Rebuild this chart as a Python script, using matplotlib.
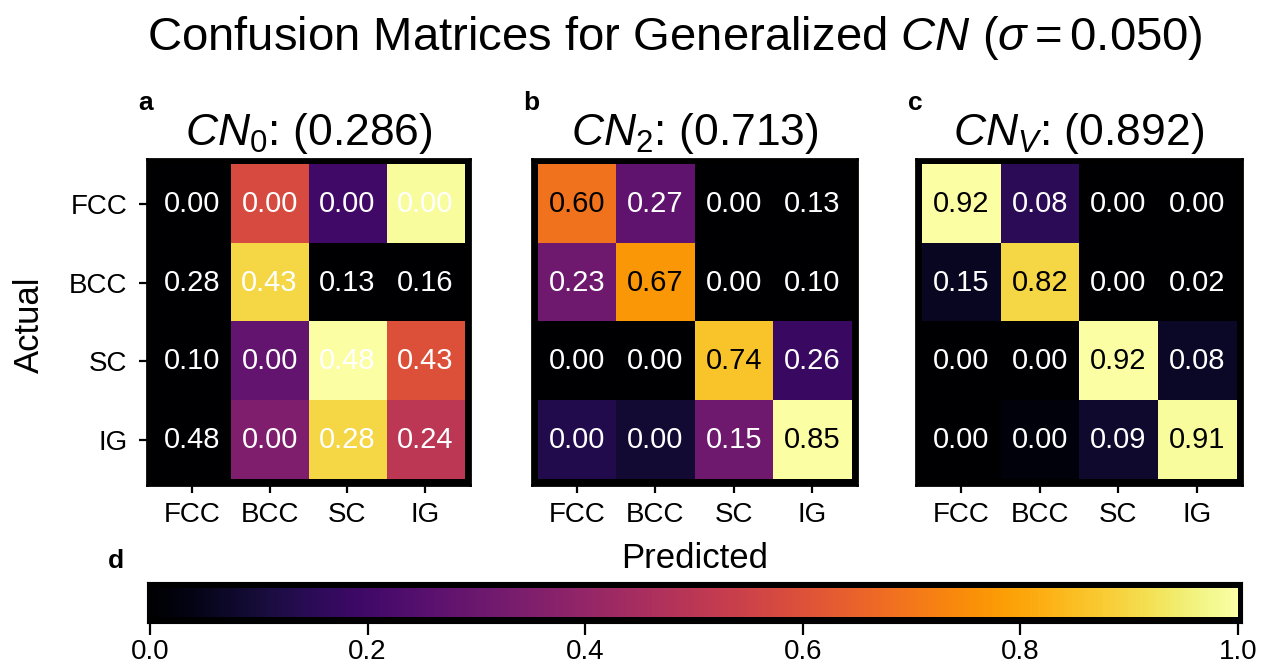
import numpy as np
import matplotlib
matplotlib.use("Agg")
import matplotlib.pyplot as plt
from matplotlib.cm import ScalarMappable
from matplotlib.colors import Normalize

plt.rcParams['font.family'] = ['Liberation Sans', 'DejaVu Sans']
plt.rcParams['mathtext.fontset'] = 'custom'
plt.rcParams['mathtext.rm'] = 'Liberation Sans'
plt.rcParams['mathtext.it'] = 'Liberation Sans:italic'

# class names and per-panel values
classes = ["FCC", "BCC", "SC", "IG"]
panel_tags = ["a", "b", "c"]
panel_titles = [r"$CN_0$: (0.286)", r"$CN_2$: (0.713)", r"$CN_V$: (0.892)"]

# printed fractions (rows = actual, cols = predicted)
labels_a = [[0.00, 0.00, 0.00, 0.00],
            [0.28, 0.43, 0.13, 0.16],
            [0.10, 0.00, 0.48, 0.43],
            [0.48, 0.00, 0.28, 0.24]]
labels_b = [[0.60, 0.27, 0.00, 0.13],
            [0.23, 0.67, 0.00, 0.10],
            [0.00, 0.00, 0.74, 0.26],
            [0.00, 0.00, 0.15, 0.85]]
labels_c = [[0.92, 0.08, 0.00, 0.00],
            [0.15, 0.82, 0.00, 0.02],
            [0.00, 0.00, 0.92, 0.08],
            [0.00, 0.00, 0.09, 0.91]]

# colour intensities of the cells
shade_a = [[0.00, 0.58, 0.20, 0.99],
           [0.00, 0.90, 0.00, 0.00],
           [0.00, 0.28, 1.00, 0.60],
           [0.00, 0.35, 0.90, 0.50]]
shade_b = [[0.69, 0.27, 0.00, 0.00],
           [0.31, 0.77, 0.00, 0.00],
           [0.00, 0.00, 0.86, 0.18],
           [0.13, 0.09, 0.31, 1.00]]
shade_c = [[1.00, 0.15, 0.00, 0.00],
           [0.06, 0.90, 0.00, 0.00],
           [0.00, 0.00, 1.00, 0.07],
           [0.00, 0.02, 0.08, 0.99]]

all_labels = [labels_a, labels_b, labels_c]
all_shades = [shade_a, shade_b, shade_c]

W, H = 1262, 667
fig = plt.figure(figsize=(W / 100, H / 100), dpi=100)


def box(x0, y0, x1, y1):
    # pixel box -> figure fraction rect
    return [x0 / W, 1 - y1 / H, (x1 - x0) / W, (y1 - y0) / H]


panel_boxes = [box(147, 159, 470, 485), box(532, 159, 857, 485), box(916, 159, 1242, 485)]
tag_x = [138, 523, 908]
norm = Normalize(vmin=0, vmax=1)
cmap = plt.get_cmap("inferno")
m = 0.075

for i in range(3):
    ax = fig.add_axes(panel_boxes[i])
    ax.set_facecolor("black")
    ax.imshow(np.array(all_shades[i]), cmap=cmap, norm=norm, aspect="auto",
              interpolation="nearest")
    ax.set_xlim(-0.5 - m, 3.5 + m)
    ax.set_ylim(3.5 + m, -0.5 - m)
    vals = all_labels[i]
    for r in range(4):
        for c in range(4):
            v = vals[r][c]
            ax.text(c, r, f"{v:.2f}", ha="center", va="center", fontsize=21,
                    color="black" if v >= 0.5 else "white")
    ax.set_xticks(range(4))
    ax.set_xticklabels(classes, fontsize=20)
    ax.set_yticks(range(4))
    if i == 0:
        ax.set_yticklabels(classes, fontsize=20)
    else:
        ax.set_yticklabels([])
        ax.tick_params(axis="y", length=0)
    ax.tick_params(axis="x", length=6, width=1.6, pad=6)
    if i == 0:
        ax.tick_params(axis="y", length=6, width=1.6, pad=8)
    for s in ax.spines.values():
        s.set_linewidth(2)
        s.set_color("black")
    ax.text(0.5, 1 + 14 / 326, panel_titles[i], transform=ax.transAxes,
            ha="center", va="baseline", fontsize=32)
    fig.text(tag_x[i] / W, 1 - 110 / H, panel_tags[i], fontsize=19,
             fontweight="bold", ha="left", va="baseline")

# colour bar with a black frame around it
frame = fig.add_axes(box(147, 582, 1242, 623))
frame.set_facecolor("black")
frame.set_xticks([])
frame.set_yticks([])
cax = fig.add_axes(box(150, 588, 1238, 617))
cb = fig.colorbar(ScalarMappable(norm=norm, cmap=cmap), cax=cax, orientation="horizontal")
cb.outline.set_visible(False)
cb.set_ticks([0.0, 0.2, 0.4, 0.6, 0.8, 1.0])
cax.tick_params(axis="x", length=13, width=1.6, pad=3, labelsize=20)
fig.text(108 / W, 1 - 568 / H, "d", fontsize=19, fontweight="bold",
         ha="left", va="baseline")

fig.text(675 / W, 1 - 50 / H,
         r"Confusion Matrices for Generalized $CN$ ($\sigma = 0.050$)",
         fontsize=34, ha="center", va="baseline")
fig.text(29 / W, 1 - 325 / H, "Actual", fontsize=25, rotation=90,
         ha="center", va="center")
fig.text(695 / W, 1 - 568 / H, "Predicted", fontsize=25, ha="center", va="baseline")

fig.savefig("out.png", dpi=100)
